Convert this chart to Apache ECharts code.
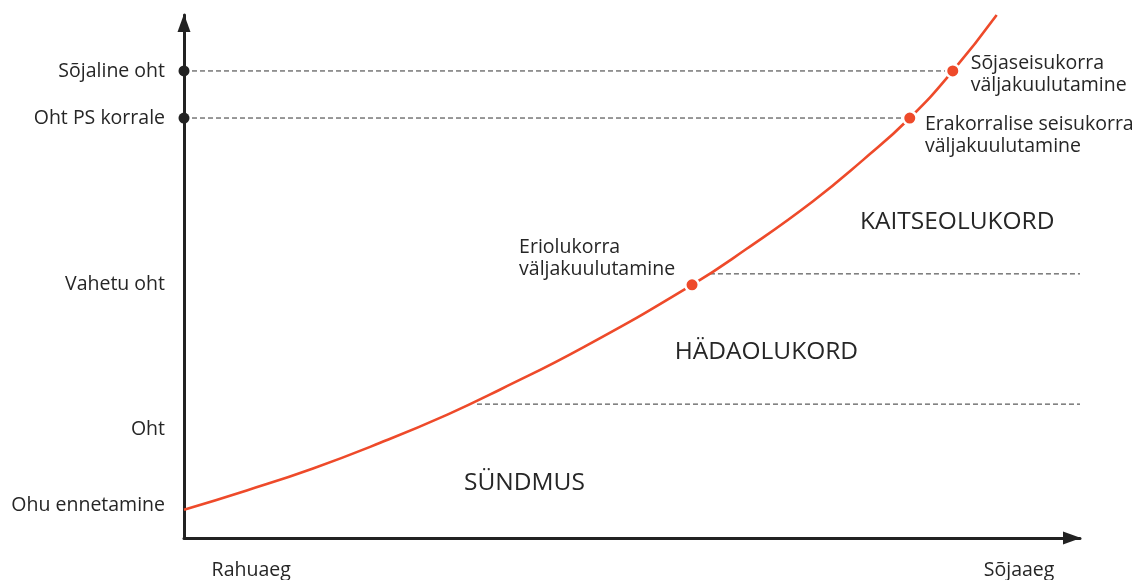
<!DOCTYPE html>
<html>
<head>
<meta charset="utf-8">
<title>Ohuolukorrad</title>
<script src="https://cdn.jsdelivr.net/npm/echarts@6/dist/echarts.min.js"></script>
<style>
html, body { margin: 0; padding: 0; background: #fff; }
#chart { width: 1138px; height: 580px; }
</style>
</head>
<body>
<div id="chart"></div>
<script>
// kõver (curve), x: rahuaeg -> sõjaaeg, y: ohu tase
var curveX = [0, 7.0, 14.4, 21.9, 29.4, 35.3, 44.5, 56.7, 62.8, 70.2, 75.8, 81.0, 85.8, 90.7];
var curveY = [5.4, 9.1, 13.3, 18.2, 23.6, 28.4, 36.4, 48.4, 55.3, 64.4, 72.3, 80.3, 89.3, 100];

// y telje sildid
var yTickValues = [6.3, 20.7, 48.4, 80.3, 89.3];
var yTickNames = ['Ohu ennetamine', 'Oht', 'Vahetu oht', 'Oht PS korrale', 'Sõjaline oht'];

// x telje sildid
var xTickValues = [7.5, 93.2];
var xTickNames = ['Rahuaeg', 'Sõjaaeg'];

// väljakuulutamise punktid kõveral
var eventNames = ['Eriolukorra\nväljakuulutamine', 'Erakorralise seisukorra\nväljakuulutamine', 'Sõjaseisukorra\nväljakuulutamine'];
var eventX = [56.7, 81.0, 85.8];
var eventY = [48.4, 80.3, 89.3];
var eventLabelX = [37.4, 82.7, 87.8];
var eventLabelY = [53.4, 76.9, 88.7];

// mustad punktid y teljel
var axisDotY = [80.3, 89.3];

// katkendjooned: algus, lõpp, tase
var dashFrom = [0, 0, 58.7, 32.7];
var dashTo = [85.8, 81.0, 100, 100];
var dashLevel = [89.3, 80.3, 50.5, 25.6];

// olukordade nimed
var zoneNames = ['SÜNDMUS', 'HÄDAOLUKORD', 'KAITSEOLUKORD'];
var zoneX = [38.0, 65.0, 86.3];
var zoneY = [10.5, 35.6, 60.4];

var red = '#ee4a2a';
var ink = '#262626';
var font = '"Open Sans", sans-serif';

function nearestName(values, names, v) {
    var best = 0;
    for (var i = 1; i < values.length; i++) {
        if (Math.abs(values[i] - v) < Math.abs(values[best] - v)) best = i;
    }
    return names[best];
}

var series = [];

// katkendjooned
for (var i = 0; i < dashLevel.length; i++) {
    series.push({
        type: 'line',
        silent: true,
        symbol: 'none',
        z: 1,
        lineStyle: { color: '#333', width: 1, type: [5, 3] },
        data: [[dashFrom[i], dashLevel[i]], [dashTo[i], dashLevel[i]]]
    });
}

// punane kõver
series.push({
    type: 'line',
    silent: true,
    symbol: 'none',
    smooth: true,
    clip: false,
    z: 3,
    lineStyle: { color: red, width: 2.6 },
    data: curveX.map(function (x, i) { return [x, curveY[i]]; })
});

// väljakuulutamise punktid
series.push({
    type: 'scatter',
    silent: true,
    z: 4,
    symbolSize: 13.5,
    itemStyle: { color: red, opacity: 1, borderColor: '#fff', borderWidth: 2.5 },
    data: eventX.map(function (x, i) { return [x, eventY[i]]; })
});

// mustad punktid teljel
series.push({
    type: 'scatter',
    silent: true,
    clip: false,
    z: 4,
    symbolSize: 11,
    itemStyle: { color: '#222', opacity: 1 },
    data: axisDotY.map(function (y) { return [0, y]; })
});

// punktide sildid
series.push({
    type: 'scatter',
    silent: true,
    symbolSize: 0,
    z: 5,
    itemStyle: { opacity: 1 },
    label: {
        show: true,
        position: 'inside',
        align: 'left',
        verticalAlign: 'middle',
        color: ink,
        fontFamily: font,
        fontSize: 19.5,
        lineHeight: 22,
        formatter: function (p) { return eventNames[p.dataIndex]; }
    },
    data: eventLabelX.map(function (x, i) { return [x, eventLabelY[i]]; })
});

// olukordade sildid
series.push({
    type: 'scatter',
    silent: true,
    symbolSize: 0,
    z: 5,
    itemStyle: { opacity: 1 },
    label: {
        show: true,
        position: 'inside',
        align: 'center',
        verticalAlign: 'middle',
        color: ink,
        fontFamily: font,
        fontSize: 24.5,
        formatter: function (p) { return zoneNames[p.dataIndex]; }
    },
    data: zoneX.map(function (x, i) { return [x, zoneY[i]]; })
});

var chart = echarts.init(document.getElementById('chart'), null, { renderer: 'canvas' });
chart.setOption({
    animation: false,
    backgroundColor: '#fff',
    grid: {
        left: 184,
        right: 58,
        top: 15,
        bottom: 42,
        containLabel: false,
        outerBoundsMode: 'none'
    },
    xAxis: {
        type: 'value',
        min: 0,
        max: 100,
        splitLine: { show: false },
        axisTick: { show: false },
        axisLine: {
            show: true,
            onZero: false,
            lineStyle: { color: '#222', width: 3 },
            symbol: ['none', 'triangle'],
            symbolSize: [13, 18],
            symbolOffset: [0, -8]
        },
        axisLabel: {
            show: true,
            customValues: xTickValues,
            margin: 22,
            color: ink,
            fontFamily: font,
            fontSize: 19.5,
            formatter: function (v) { return nearestName(xTickValues, xTickNames, v); }
        }
    },
    yAxis: {
        type: 'value',
        min: 0,
        max: 100,
        splitLine: { show: false },
        axisTick: { show: false },
        axisLine: {
            show: true,
            onZero: false,
            lineStyle: { color: '#222', width: 3 },
            symbol: ['none', 'triangle'],
            symbolSize: [13, 18],
            symbolOffset: [0, -8]
        },
        axisLabel: {
            show: true,
            customValues: yTickValues,
            margin: 19,
            color: ink,
            fontFamily: font,
            fontSize: 19.5,
            formatter: function (v) { return nearestName(yTickValues, yTickNames, v); }
        }
    },
    series: series
});
</script>
</body>
</html>
